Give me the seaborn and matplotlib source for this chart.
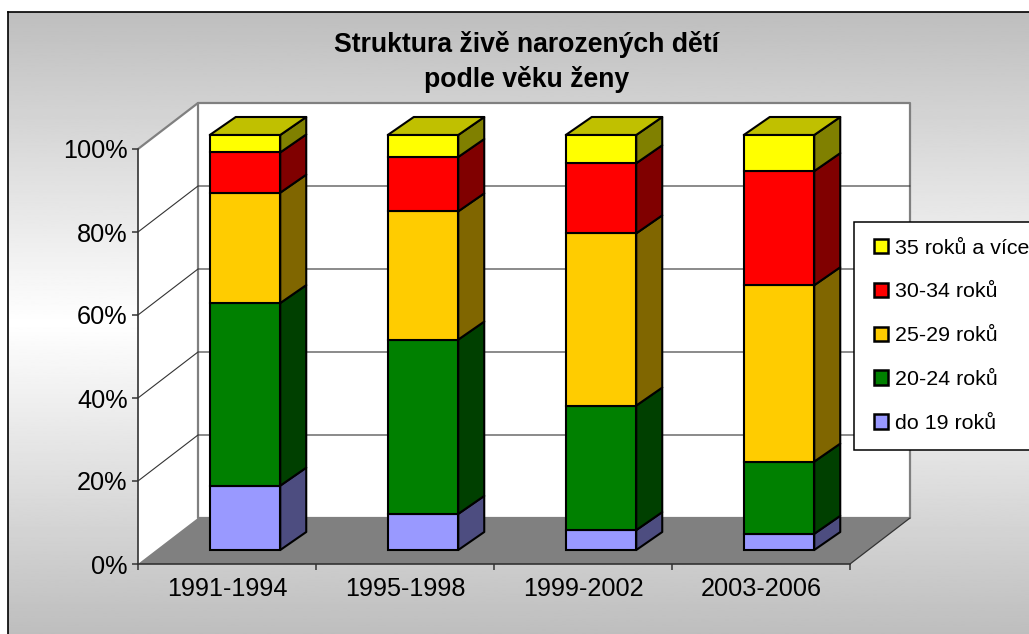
import numpy as np
import pandas as pd
import matplotlib
matplotlib.use("Agg")
import matplotlib.pyplot as plt
from matplotlib.patches import Polygon, Patch
import seaborn as sns

periods = ["1991-1994", "1995-1998", "1999-2002", "2003-2006"]
do19 = [15.5, 8.7, 4.8, 3.9]
age20_24 = [44.0, 42.0, 30.0, 17.4]
age25_29 = [26.6, 30.9, 41.5, 42.5]
age30_34 = [9.7, 13.1, 16.9, 27.5]
age35 = [4.2, 5.3, 6.8, 8.7]
series_names = ["do 19 roků", "20-24 roků", "25-29 roků", "30-34 roků", "35 roků a více"]
series_values = [do19, age20_24, age25_29, age30_34, age35]
front_colors = ["#9999FF", "#008000", "#FFCC00", "#FF0000", "#FFFF00"]
side_colors = ["#4D4D80", "#004000", "#806600", "#800000", "#808000"]
top_color = "#C0C000"
title = "Struktura živě narozených dětí\npodle věku ženy"
yticks = [0, 20, 40, 60, 80, 100]

W, H = 1029, 634
sns.set_theme(style="white")
plt.rcParams["font.family"] = ["Liberation Sans", "DejaVu Sans"]
fig = plt.figure(figsize=(W / 100, H / 100), dpi=100, facecolor="white")

# background panel with gradient
bg = fig.add_axes([8 / W, 0, (W - 8) / W, (H - 12) / H], zorder=0)
t = np.linspace(0, 1, 400)
grad = 190 + 65 * (1 - np.abs(2 * t - 1))
bg.imshow(grad[:, None], cmap="gray", vmin=0, vmax=255, aspect="auto", extent=(0, 1, 0, 1))
bg.set_xticks([]); bg.set_yticks([])
for s in ["right", "bottom"]:
    bg.spines[s].set_visible(False)
for s in ["left", "top"]:
    bg.spines[s].set_visible(True)
    bg.spines[s].set_color("black")
    bg.spines[s].set_linewidth(1.2)

# front plane of the 3-D box
L, R, B, T = 138, 850, 564, 149
ax = fig.add_axes([L / W, (H - B) / H, (R - L) / W, (B - T) / H], zorder=1)
ax.patch.set_alpha(0)

df = pd.DataFrame({"period": periods})
for n, v in zip(series_names, series_values):
    df[n] = v

ux = (R - L) / 4
uy = (B - T) / 100
box_dx, box_dy = 60 / ux, 46 / uy           # depth of the whole box in data units
bar_off_x, bar_off_y = 18 / ux, 14 / uy     # bar front offset
bar_dx, bar_dy = 26 / ux, 18 / uy           # bar depth

bottom = np.zeros(len(periods))
for n, fc in zip(series_names, front_colors):
    sns.barplot(data=df, x="period", y=n, bottom=bottom, width=0.396, color=fc, saturation=1,
                edgecolor="black", linewidth=1.5, errorbar=None, ax=ax, zorder=5, clip_on=False)
    bottom = bottom + df[n].to_numpy()

ax.set_xlim(-0.5, 3.5)
ax.set_ylim(0, 100)

edge = dict(clip_on=False, joinstyle="round")
# walls and floor
x0, x1 = -0.5, 3.5
ax.add_patch(Polygon([(x0, 0), (x0 + box_dx, box_dy), (x0 + box_dx, 100 + box_dy), (x0, 100)],
                     fc="white", ec="none", zorder=1, **edge))
ax.add_patch(Polygon([(x0 + box_dx, box_dy), (x1 + box_dx, box_dy), (x1 + box_dx, 100 + box_dy),
                      (x0 + box_dx, 100 + box_dy)], fc="white", ec="#808080", lw=1.6, zorder=1, **edge))
ax.add_patch(Polygon([(x0, 0), (x0 + box_dx, box_dy), (x1 + box_dx, box_dy), (x1, 0)],
                     fc="#808080", ec="none", zorder=2, **edge))
ax.plot([x0, x0 + box_dx], [100, 100 + box_dy], color="#808080", lw=1.6, clip_on=False, zorder=2)
ax.plot([x1, x1 + box_dx], [0, box_dy], color="#333333", lw=0.9, clip_on=False, zorder=2)
for g in yticks[1:-1]:
    ax.plot([x0, x0 + box_dx, x1 + box_dx], [g, g + box_dy, g + box_dy],
            color="#333333", lw=0.8, clip_on=False, zorder=2)

# shift bars backward and add their side and top faces
for cont, sc in zip(ax.containers, side_colors):
    for p in cont:
        p.set_x(p.get_x() + bar_off_x)
        p.set_y(p.get_y() + bar_off_y)
        xr = p.get_x() + p.get_width()
        y0, y1 = p.get_y(), p.get_y() + p.get_height()
        ax.add_patch(Polygon([(xr, y0), (xr + bar_dx, y0 + bar_dy), (xr + bar_dx, y1 + bar_dy), (xr, y1)],
                             fc=sc, ec="black", lw=1.5, zorder=4, **edge))
for p in ax.containers[-1]:
    xl, xr = p.get_x(), p.get_x() + p.get_width()
    yt = p.get_y() + p.get_height()
    ax.add_patch(Polygon([(xl, yt), (xl + bar_dx, yt + bar_dy), (xr + bar_dx, yt + bar_dy), (xr, yt)],
                         fc=top_color, ec="black", lw=1.5, zorder=4, **edge))

# axes
for s in ["top", "right"]:
    ax.spines[s].set_visible(False)
for s in ["left", "bottom"]:
    ax.spines[s].set_visible(True)
    ax.spines[s].set_color("#333333")
    ax.spines[s].set_linewidth(1.2)
    ax.spines[s].set_zorder(3)
ax.set_xlabel(""); ax.set_ylabel("")
ax.set_yticks(yticks)
ax.set_yticklabels([f"{v}%" for v in yticks])
ax.tick_params(axis="y", left=True, length=4.5, width=1.1, color="#333333", pad=3, labelsize=18.2, labelcolor="black")
ax.set_xticks(np.arange(-0.5, 4, 1))
ax.set_xticklabels([])
ax.set_xticks(np.arange(4), labels=periods, minor=True)
ax.tick_params(axis="x", which="major", bottom=True, length=4.5, width=1.1, color="#333333")
ax.tick_params(axis="x", which="minor", bottom=False, length=0, pad=9, labelsize=18.2, labelcolor="black")

# legend, running past the figure's right edge
handles = [Patch(fc=c, ec="black", lw=1.8) for c in front_colors[::-1]]
leg = fig.legend(handles, series_names[::-1], loc="upper left",
                 bbox_to_anchor=(854 / W, 1 - 222 / H), bbox_transform=fig.transFigure,
                 borderaxespad=0, fontsize=15.4, frameon=True, fancybox=False, edgecolor="black",
                 framealpha=1, facecolor="white", handlelength=0.8, handleheight=0.66,
                 handletextpad=0.33, labelspacing=1.16, borderpad=0.78, labelcolor="black")
leg.set_zorder(10)
leg.get_frame().set_linewidth(1.1)
for h in leg.legend_handles:
    h.set_x(h.get_x() + 2.2)
    h.set_width(h.get_width() - 2.2)

fig.text(526.5 / W, 1 - 62 / H, title, ha="center", va="center", fontsize=19.2, fontweight="bold",
         color="black", linespacing=1.37, zorder=10)

fig.savefig("out.png", dpi=100)
